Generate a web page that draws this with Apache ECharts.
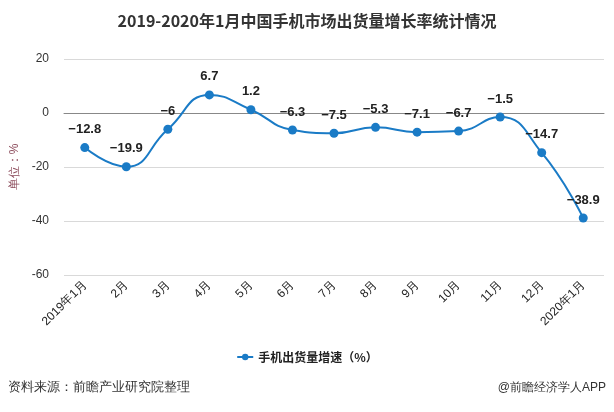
<!DOCTYPE html>
<html><head><meta charset="utf-8">
<script src="https://cdn.jsdelivr.net/npm/echarts@6/dist/echarts.min.js"></script>
<style>html,body{margin:0;padding:0;background:#fff}#c{width:614px;height:412px}</style>
</head><body><div id="c"></div>
<script>
var categories = ['2019年1月','2月','3月','4月','5月','6月','7月','8月','9月','10月','11月','12月','2020年1月'];
var growth = [-12.8, -19.9, -6, 6.7, 1.2, -6.3, -7.5, -5.3, -7.1, -6.7, -1.5, -14.7, -38.9];
var seriesName = '手机出货量增速（%）';
var chart = echarts.init(document.getElementById('c'));
chart.setOption({
  backgroundColor: '#fff',
  title: {text: '2019-2020年1月中国手机市场出货量增长率统计情况', left: 'center', top: 8,
    textStyle: {fontSize: 16, fontWeight: 'bold', color: '#333', fontFamily: 'Noto Sans CJK SC'}},
  grid: {left: 64, right: 10, top: 59, bottom: 137},
  legend: {bottom: 44, left: 'center', itemWidth: 16, itemHeight: 8,
    textStyle: {fontSize: 12, color: '#222', fontWeight: 'bold', fontFamily: 'Noto Sans CJK SC'},
    data: [seriesName]},
  xAxis: {type: 'category', data: categories, boundaryGap: true,
    axisTick: {alignWithLabel: true, length: 5, lineStyle: {color: '#888'}},
    axisLine: {lineStyle: {color: '#888'}},
    axisLabel: {rotate: 45, color: '#222', fontSize: 12, margin: 8, interval: 0}},
  yAxis: {type: 'value', min: -60, max: 20, interval: 20,
    name: '单位：%', nameLocation: 'middle', nameGap: 42, nameRotate: 90,
    nameTextStyle: {color: '#8b4a5a', fontSize: 12},
    axisLine: {show: false}, axisTick: {show: false},
    axisLabel: {color: '#333', fontSize: 12, margin: 15},
    splitLine: {lineStyle: {color: '#d9d9d9'}}},
  series: [{name: seriesName, type: 'line', data: growth, smooth: true,
    symbol: 'circle', symbolSize: 9,
    itemStyle: {color: '#1a7bc6'}, lineStyle: {width: 2, color: '#1a7bc6'},
    label: {show: true, position: 'top', distance: 7, color: '#222', fontSize: 13, fontWeight: 'bold',
      formatter: function (p) { return String(p.value).replace('-', '−'); }}}],
  graphic: [
    {type: 'text', left: 8, top: 381, style: {text: '资料来源：前瞻产业研究院整理', fontSize: 13, fill: '#333'}},
    {type: 'text', right: 8, top: 382, style: {text: '@前瞻经济学人APP', fontSize: 12, fill: '#333'}}
  ]
});
</script></body></html>
